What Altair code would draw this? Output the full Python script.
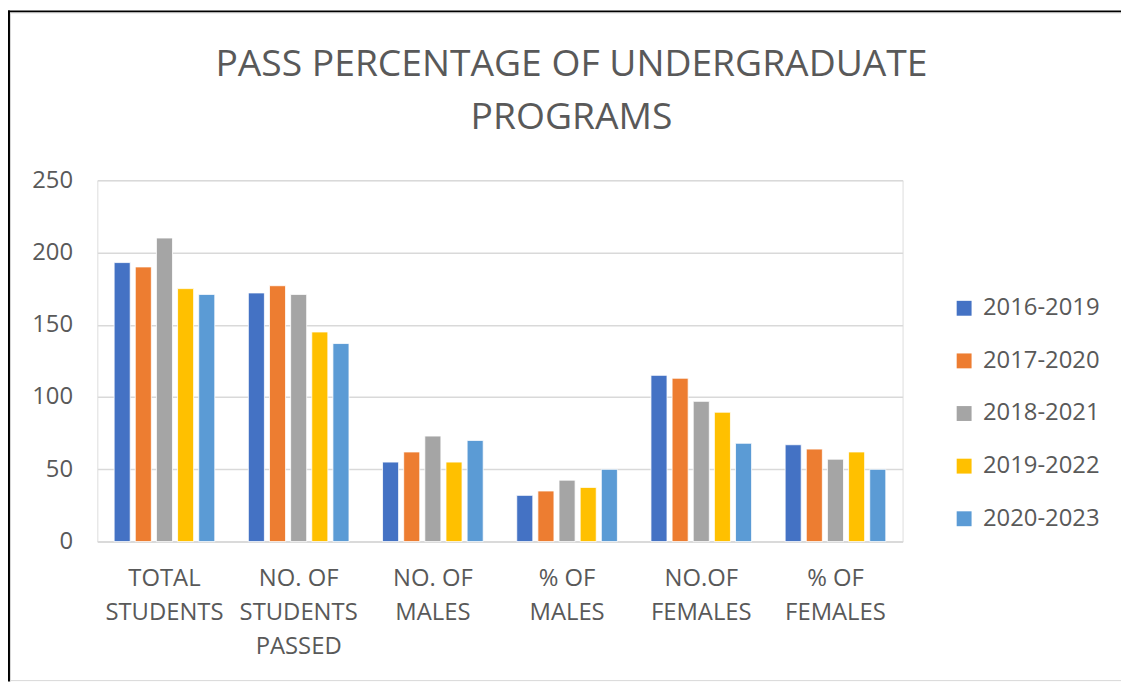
import altair as alt
import pandas as pd

categories = ["TOTAL\nSTUDENTS", "NO. OF\nSTUDENTS\nPASSED", "NO. OF\nMALES",
              "% OF\nMALES", "NO.OF\nFEMALES", "% OF\nFEMALES"]
series = ["2016-2019", "2017-2020", "2018-2021", "2019-2022", "2020-2023"]
v_2016_2019 = [193, 172, 55, 32, 115, 67]
v_2017_2020 = [190, 177, 62, 35, 113, 64]
v_2018_2021 = [210, 171, 73, 42.5, 97, 57]
v_2019_2022 = [175, 145, 55, 37.5, 89.5, 62]
v_2020_2023 = [171, 137, 70, 50, 68, 50]
colors = ["#4472C4", "#ED7D31", "#A5A5A5", "#FFC000", "#5B9BD5"]
y_ticks = [0, 50, 100, 150, 200, 250]

all_values = [v_2016_2019, v_2017_2020, v_2018_2021, v_2019_2022, v_2020_2023]
rows = []
for s, vals in zip(series, all_values):
    for c, v in zip(categories, vals):
        rows.append({"category": c, "series": s, "value": v})
df = pd.DataFrame(rows)

FONT = "Open Sans"
TXT = "#595959"

bars = alt.Chart(df).mark_bar(stroke="white", strokeWidth=0.8).encode(
    x=alt.X("category:N", sort=categories, title=None,
            scale=alt.Scale(paddingInner=0.25, paddingOuter=0.125),
            axis=alt.Axis(labelAngle=0, labelExpr="split(datum.label, '\\n')",
                          labelFont=FONT, labelFontSize=24, labelColor=TXT,
                          labelLineHeight=34.5, labelPadding=25, labelBaseline="top",
                          ticks=False, domainColor="#D9D9D9", domainWidth=1.5,
                          labelLimit=300)),
    xOffset=alt.XOffset("series:N", sort=series,
                        scale=alt.Scale(paddingInner=0.24, paddingOuter=0)),
    y=alt.Y("value:Q", title=None,
            scale=alt.Scale(domain=[0, 250], nice=False),
            axis=alt.Axis(values=y_ticks, domain=False, ticks=False,
                          labelFont=FONT, labelFontSize=24, labelColor=TXT,
                          labelPadding=25, gridColor="#D9D9D9", gridWidth=1.5)),
    color=alt.Color("series:N", sort=series, title=None,
                    scale=alt.Scale(domain=series, range=colors),
                    legend=alt.Legend(orient="none", legendX=861, legendY=117,
                                      symbolType="square", symbolSize=225,
                                      symbolStrokeWidth=0, labelFont=FONT,
                                      labelFontSize=24, labelColor=TXT,
                                      labelOffset=7, rowPadding=29)),
)

frame_df = pd.DataFrame({"a": [0]})
top_line = alt.Chart(frame_df).mark_rule(color="black", strokeWidth=2).encode(
    x=alt.value(-90), x2=alt.value(1031), y=alt.value(-170))
left_line = alt.Chart(frame_df).mark_rule(color="black", strokeWidth=2).encode(
    x=alt.value(-89), y=alt.value(-171), y2=alt.value(505))
top_shadow = alt.Chart(frame_df).mark_rule(color="#D6D6D6", strokeWidth=1).encode(
    x=alt.value(-88), x2=alt.value(1031), y=alt.value(-168.5))
left_shadow = alt.Chart(frame_df).mark_rule(color="#D6D6D6", strokeWidth=1).encode(
    x=alt.value(-87.5), y=alt.value(-168), y2=alt.value(505))
bottom_line = alt.Chart(frame_df).mark_rule(color="#D9D9D9", strokeWidth=1).encode(
    x=alt.value(-88), x2=alt.value(1031), y=alt.value(504))

chart = alt.layer(bars, top_line, left_line, top_shadow, left_shadow, bottom_line).properties(
    width=811, height=364,
    autosize=alt.AutoSizeParams(type="none"),
    padding={"left": 90, "top": 171, "right": 220, "bottom": 141},
    title=alt.TitleParams(["PASS PERCENTAGE OF UNDERGRADUATE", "PROGRAMS"],
                          font=FONT, fontSize=37.5, fontWeight="normal", color=TXT,
                          lineHeight=53, anchor="middle", dx=72, offset=-128),
).configure_view(stroke="transparent").configure(background="white")

chart.save("out.html", embed_options={"renderer": "svg", "actions": False})
